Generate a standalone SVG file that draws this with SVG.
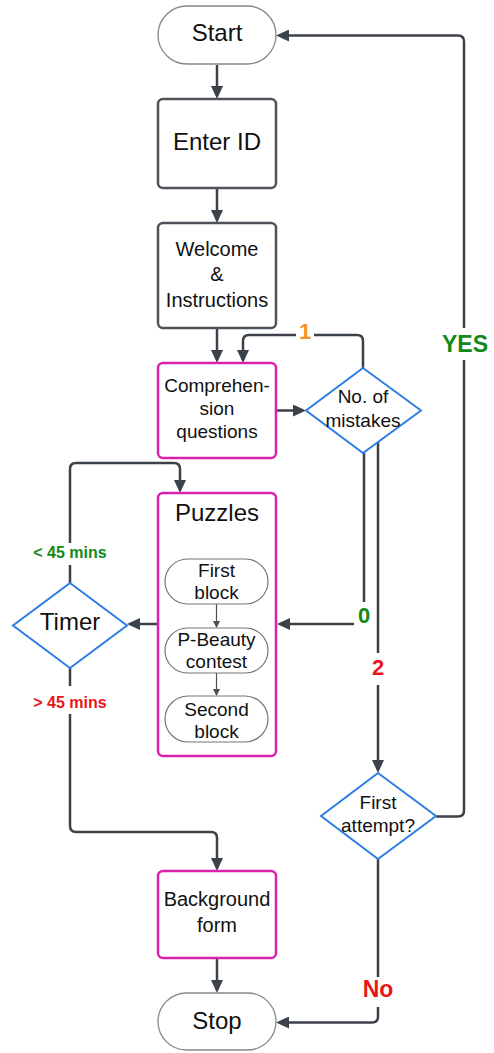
<svg xmlns="http://www.w3.org/2000/svg" width="494" height="1053" viewBox="0 0 494 1053">
  <defs>
    <marker id="arrow" markerUnits="userSpaceOnUse" markerWidth="13" markerHeight="12" refX="10" refY="6" orient="auto">
      <path d="M0,0 L13,6 L0,12 z" fill="#3c4249"/>
    </marker>
    <marker id="arrow-sm" markerUnits="userSpaceOnUse" markerWidth="7" markerHeight="7" refX="6" refY="3.5" orient="auto">
      <path d="M0,0 L7,3.5 L0,7 z" fill="#4a5057"/>
    </marker>
    <style>
      text { font-family: "Liberation Sans", Arial, sans-serif; fill: #111; text-anchor: middle; }
      .term { fill: #fff; stroke: #888; stroke-width: 1.3; }
      .plain { fill: #fff; stroke: #4d5358; stroke-width: 2.5; }
      .magenta { fill: #fff; stroke: #dc20ae; stroke-width: 2.5; }
      .decision { fill: #fff; stroke: #2d7fe3; stroke-width: 2; }
      .step { fill: #fff; stroke: #777; stroke-width: 1.2; }
      .conn { fill: none; stroke: #3c4249; stroke-width: 2.5; marker-end: url(#arrow); }
      .conn-sm { fill: none; stroke: #4a5057; stroke-width: 1.2; marker-end: url(#arrow-sm); }
      .gap { fill: #fff; }
      .lbl { font-weight: bold; }
    </style>
  </defs>

  <!-- connectors -->
  <g id="connectors">
    <path class="conn" d="M217 65 V96"/>
    <path class="conn" d="M217 188 V220"/>
    <path class="conn" d="M217 328 V360"/>
    <path class="conn" d="M276 410.5 H303"/>
    <path class="conn" d="M363 368 V341 Q363 335 357 335 H249 Q243 335 243 341 V360"/>
    <path class="conn" d="M364 453 V624 H280"/>
    <path class="conn" d="M378 442 V770"/>
    <path class="conn" d="M436 816.5 H458 Q464 816.5 464 810.5 V41.5 Q464 35.5 458 35.5 H279"/>
    <path class="conn" d="M378 859 V1016.5 Q378 1022.5 372 1022.5 H279"/>
    <path class="conn" d="M158 624 H130"/>
    <path class="conn" d="M70 583 V469 Q70 463 76 463 H174 Q180 463 180 469 V490"/>
    <path class="conn" d="M70 668 V826 Q70 832 76 832 H211 Q217 832 217 838 V868"/>
    <path class="conn" d="M217 958 V990"/>

    <!-- connector labels -->
    <rect class="gap" x="296" y="325" width="18" height="20"/>
    <text class="lbl" x="305" y="339" font-size="22" style="fill:#f7931e">1</text>
    <rect class="gap" x="354" y="602" width="20" height="28"/>
    <text class="lbl" x="364" y="623" font-size="22" style="fill:#13891a">0</text>
    <rect class="gap" x="368" y="653" width="20" height="32"/>
    <text class="lbl" x="378" y="675" font-size="22" style="fill:#e8161b">2</text>
    <rect class="gap" x="440" y="328" width="50" height="32"/>
    <text class="lbl" x="465" y="352" font-size="23" style="fill:#13891a">YES</text>
    <rect class="gap" x="359" y="977" width="38" height="30"/>
    <text class="lbl" x="378" y="997" font-size="23" style="fill:#e8161b">No</text>
    <rect class="gap" x="30" y="543" width="80" height="22"/>
    <text class="lbl" x="70" y="558" font-size="16" style="fill:#13891a">&lt; 45 mins</text>
    <rect class="gap" x="30" y="686" width="80" height="28"/>
    <text class="lbl" x="70" y="708" font-size="16" style="fill:#e8161b">&gt; 45 mins</text>
  </g>

  <g id="start">
    <rect class="term" x="158" y="6" width="118" height="58" rx="29"/>
    <text x="217" y="41" font-size="24">Start</text>
  </g>

  <g id="enter-id">
    <rect class="plain" x="158" y="99" width="118" height="89" rx="5"/>
    <text x="217" y="150" font-size="24">Enter ID</text>
  </g>

  <g id="welcome">
    <rect class="plain" x="158" y="223" width="118" height="105" rx="5"/>
    <text font-size="20"><tspan x="217" y="256">Welcome</tspan><tspan x="217" y="281">&amp;</tspan><tspan x="217" y="307">Instructions</tspan></text>
  </g>

  <g id="comprehension">
    <rect class="magenta" x="158" y="363" width="118" height="95" rx="5"/>
    <text font-size="19"><tspan x="217" y="392">Comprehen-</tspan><tspan x="217" y="415">sion</tspan><tspan x="217" y="438">questions</tspan></text>
  </g>

  <g id="mistakes">
    <polygon class="decision" points="363,368 421,410.5 363,453 306,410.5"/>
    <text font-size="19"><tspan x="363" y="403">No. of</tspan><tspan x="363" y="427">mistakes</tspan></text>
  </g>

  <g id="puzzles">
    <rect class="magenta" x="158" y="493" width="118" height="263" rx="5"/>
    <text x="217" y="521" font-size="24">Puzzles</text>
    <!-- steps inside the puzzles block -->
    <path class="conn-sm" d="M216.5 604 V627"/>
    <path class="conn-sm" d="M216.5 673 V695"/>
    <g id="first-block">
      <rect class="step" x="165" y="559" width="103" height="45" rx="22.5"/>
      <text font-size="19"><tspan x="216.5" y="577">First</tspan><tspan x="216.5" y="599">block</tspan></text>
    </g>
    <g id="p-beauty">
      <rect class="step" x="165" y="628" width="103" height="45" rx="22.5"/>
      <text font-size="19"><tspan x="216.5" y="646">P-Beauty</tspan><tspan x="216.5" y="668">contest</tspan></text>
    </g>
    <g id="second-block">
      <rect class="step" x="165" y="696" width="103" height="46" rx="23"/>
      <text font-size="19"><tspan x="216.5" y="716">Second</tspan><tspan x="216.5" y="738">block</tspan></text>
    </g>
  </g>

  <g id="timer">
    <polygon class="decision" points="70,583 127,625.5 70,668 13,625.5"/>
    <text x="70" y="630" font-size="24">Timer</text>
  </g>

  <g id="first-attempt">
    <polygon class="decision" points="378,773 436,816 378,859 321,816"/>
    <text font-size="19"><tspan x="378" y="809">First</tspan><tspan x="378" y="832">attempt?</tspan></text>
  </g>

  <g id="background-form">
    <rect class="magenta" x="158" y="871" width="118" height="87" rx="5"/>
    <text font-size="20"><tspan x="217" y="906">Background</tspan><tspan x="217" y="932">form</tspan></text>
  </g>

  <g id="stop">
    <rect class="term" x="158" y="993" width="118" height="57" rx="28.5"/>
    <text x="217" y="1029" font-size="24">Stop</text>
  </g>
</svg>
